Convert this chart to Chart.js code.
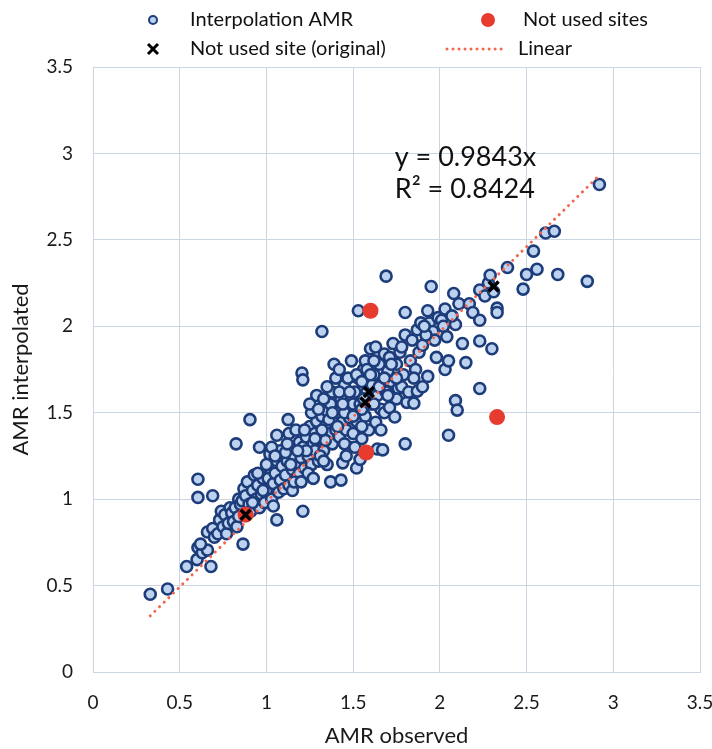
<!DOCTYPE html>
<html>
<head>
<meta charset="utf-8">
<script src="https://cdn.jsdelivr.net/npm/chart.js@4.4.1/dist/chart.umd.min.js"></script>
<style>
  html, body { margin: 0; padding: 0; background: #fff; }
  #wrap { width: 712px; height: 749px; }
</style>
</head>
<body>
<div id="wrap"><canvas id="amr-chart" width="712" height="749"></canvas></div>
<script>
// AMR observed (x) and AMR interpolated (y) for the interpolation points
const amrObserved = [
  0.33, 0.43, 0.54, 0.60, 0.68, 0.605, 0.63, 0.66, 0.62, 0.66, 0.69, 0.70, 0.72, 0.605, 0.605, 0.69, 0.825, 0.865,
  0.73, 0.74, 0.75, 0.76, 0.77, 0.78, 0.79, 0.80, 0.81, 0.82, 0.83, 0.84, 0.84, 0.85, 0.86, 0.87, 0.88, 0.89,
  0.90, 0.905, 0.91, 0.92, 0.93, 0.94, 0.95, 0.96, 0.96, 0.97, 0.98, 0.99,
  1.00, 1.01, 1.02, 1.03, 1.04, 1.05, 1.06, 1.07, 1.08, 1.09, 1.06, 1.06, 1.02, 1.04, 1.08, 1.10, 1.00, 1.03,
  1.11, 1.12, 1.13, 1.14, 1.15, 1.16, 1.17, 1.18, 1.19, 1.125, 1.13, 1.15, 1.17, 1.11, 1.19, 1.20, 1.16, 1.14,
  1.21, 1.205, 1.21, 1.21, 1.22, 1.23, 1.24, 1.25, 1.26, 1.27, 1.28, 1.29, 1.29, 1.22, 1.24, 1.26, 1.28, 1.30, 1.23, 1.27,
  1.31, 1.32, 1.32, 1.33, 1.34, 1.35, 1.36, 1.37, 1.37, 1.38, 1.39, 1.39, 1.31, 1.33, 1.35, 1.36, 1.38, 1.40, 1.34, 1.32,
  1.41, 1.42, 1.43, 1.43, 1.44, 1.44, 1.45, 1.46, 1.47, 1.48, 1.49, 1.49, 1.45, 1.47, 1.48, 1.50, 1.42, 1.46, 1.41, 1.50,
  1.51, 1.52, 1.52, 1.53, 1.53, 1.54, 1.54, 1.55, 1.56, 1.57, 1.58, 1.59, 1.55, 1.57, 1.59, 1.60, 1.51, 1.56, 1.60,
  1.61, 1.62, 1.63, 1.63, 1.64, 1.64, 1.65, 1.66, 1.67, 1.67, 1.68, 1.69, 1.69, 1.70, 1.62, 1.66, 1.68,
  1.71, 1.71, 1.72, 1.73, 1.74, 1.75, 1.76, 1.77, 1.78, 1.79, 1.80, 1.80, 1.80, 1.75, 1.78,
  1.81, 1.82, 1.83, 1.84, 1.85, 1.86, 1.87, 1.87, 1.88, 1.89, 1.90, 1.90, 1.85,
  1.93, 1.93, 1.94, 1.95, 1.96, 1.97, 1.98, 1.92, 1.99, 1.91,
  2.01, 2.02, 2.03, 2.03, 2.04, 2.05, 2.05, 2.08, 2.09, 2.09, 2.10, 2.07,
  2.11, 2.13, 2.15, 2.17, 2.19, 2.23, 2.23, 2.23, 2.23, 2.26, 2.28, 2.29, 2.30, 2.31, 2.33, 2.33,
  2.39, 2.48, 2.50, 2.54, 2.56, 2.61, 2.66, 2.68, 2.85, 2.92,
  1.25, 1.30, 1.35, 1.40, 1.42, 1.45, 1.48, 1.52, 1.55, 1.58, 1.60, 1.62, 1.65, 1.68, 1.70,
  1.72, 1.75, 1.55, 1.50, 1.44, 1.38, 1.28, 1.18, 1.12, 1.05, 0.98, 0.95, 0.92, 1.20, 1.33
];
const amrInterpolated = [
  0.45, 0.48, 0.61, 0.65, 0.61, 0.72, 0.69, 0.705, 0.74, 0.81, 0.83, 0.78, 0.80, 1.115, 1.01, 1.02, 1.32, 0.74,
  0.88, 0.93, 0.84, 0.91, 0.80, 0.86, 0.95, 0.92, 0.87, 0.95, 0.84, 0.90, 1.00, 0.97, 0.99, 1.06, 1.02, 1.10,
  0.97, 1.46, 0.93, 1.05, 1.14, 1.00, 1.08, 0.95, 1.30, 1.03, 1.12, 0.98,
  1.05, 1.12, 1.18, 1.00, 1.09, 1.15, 1.22, 1.04, 1.11, 1.19, 1.37, 0.88, 1.26, 0.96, 1.28, 1.06, 1.20, 1.30,
  1.14, 1.22, 1.08, 1.30, 1.17, 1.25, 1.12, 1.20, 1.33, 1.46, 1.38, 1.05, 1.40, 1.27, 1.15, 1.24, 1.10, 1.20,
  0.93, 1.73, 1.69, 1.30, 1.18, 1.36, 1.25, 1.42, 1.20, 1.32, 1.28, 1.45, 1.60, 1.40, 1.15, 1.50, 1.38, 1.22, 1.28, 1.12,
  1.35, 1.97, 1.48, 1.28, 1.42, 1.51, 1.38, 1.10, 1.55, 1.32, 1.78, 1.45, 1.25, 1.58, 1.20, 1.46, 1.62, 1.40, 1.34, 1.40,
  1.50, 1.36, 1.11, 1.58, 1.21, 1.45, 1.66, 1.40, 1.53, 1.30, 1.80, 1.60, 1.32, 1.70, 1.47, 1.55, 1.62, 1.25, 1.42, 1.38,
  1.62, 1.18, 1.45, 2.09, 1.70, 1.23, 1.55, 1.35, 1.75, 1.48, 1.62, 1.40, 1.52, 1.80, 1.69, 1.87, 1.30, 1.58, 1.55,
  1.66, 1.72, 1.88, 1.445, 1.29, 1.60, 1.78, 1.52, 1.285, 1.68, 1.84, 2.29, 1.62, 1.74, 1.55, 1.40, 1.50,
  1.82, 1.53, 1.68, 1.90, 1.475, 1.78, 1.64, 1.85, 1.65, 1.72, 1.32, 2.08, 1.95, 1.58, 1.88,
  1.56, 1.62, 1.80, 1.92, 1.555, 1.75, 1.625, 1.98, 1.85, 2.02, 1.65, 1.89, 1.70,
  1.71, 2.09, 2.02, 2.23, 1.97, 1.92, 1.82, 1.95, 2.05, 2.00,
  2.035, 2.00, 2.10, 1.75, 1.94, 1.80, 1.37, 2.19, 2.01, 1.57, 1.515, 2.06,
  2.13, 1.90, 1.79, 2.13, 2.08, 2.035, 1.915, 1.64, 2.21, 2.175, 2.25, 2.295, 1.87, 2.20, 2.105, 2.08,
  2.34, 2.215, 2.30, 2.435, 2.33, 2.54, 2.55, 2.30, 2.26, 2.82,
  1.55, 1.52, 1.65, 1.70, 1.75, 1.50, 1.62, 1.72, 1.68, 1.75, 1.72, 1.80, 1.65, 1.70, 1.60,
  1.78, 1.70, 1.42, 1.48, 1.55, 1.50, 1.35, 1.28, 1.32, 1.25, 1.05, 1.15, 0.98, 1.10, 1.22
];

// sites left out of the interpolation
const notUsedX = [1.60, 2.33, 1.575, 0.88];
const notUsedY = [2.09, 1.475, 1.27, 0.91];

// same sites, original values
const originalX = [0.88, 1.59, 1.57, 2.31];
const originalY = [0.91, 1.62, 1.56, 2.23];

// linear trend (through origin)
const trendX = [0.33, 2.92];
const trendY = [0.325, 2.874];
const trendSlope = "0.9843";
const trendR2 = "0.8424";

const toPoints = (xs, ys) => xs.map((x, i) => ({ x: x, y: ys[i] }));

const FONT = "Lato, 'Open Sans', sans-serif";

// legend and the equation label, drawn straight onto the canvas
const extrasPlugin = {
  id: "extras",
  afterDraw(chart) {
    const ctx = chart.ctx;
    const xs = chart.scales.x;
    const ys = chart.scales.y;
    ctx.save();

    ctx.font = "20px " + FONT;
    ctx.fillStyle = "#111";
    ctx.textBaseline = "middle";
    ctx.textAlign = "left";

    // row 1
    ctx.beginPath();
    ctx.arc(153, 20, 4, 0, Math.PI * 2);
    ctx.fillStyle = "#bcd2ee";
    ctx.fill();
    ctx.lineWidth = 2;
    ctx.strokeStyle = "#1d3c7a";
    ctx.stroke();
    ctx.fillStyle = "#111";
    ctx.fillText("Interpolation AMR", 190, 20);

    ctx.beginPath();
    ctx.arc(488, 20, 7, 0, Math.PI * 2);
    ctx.fillStyle = "#e63b2e";
    ctx.fill();
    ctx.fillStyle = "#111";
    ctx.fillText("Not used sites", 523, 20);

    // row 2
    ctx.strokeStyle = "#000";
    ctx.lineWidth = 3;
    ctx.beginPath();
    ctx.moveTo(148, 44); ctx.lineTo(158, 54);
    ctx.moveTo(158, 44); ctx.lineTo(148, 54);
    ctx.stroke();
    ctx.fillText("Not used site (original)", 190, 49);

    ctx.strokeStyle = "#f2654f";
    ctx.lineWidth = 3;
    ctx.lineCap = "round";
    ctx.setLineDash([0.01, 6]);
    ctx.beginPath();
    ctx.moveTo(447, 49); ctx.lineTo(502, 49);
    ctx.stroke();
    ctx.setLineDash([]);
    ctx.fillText("Linear", 518, 49);

    // trend equation
    ctx.font = "27px " + FONT;
    ctx.fillText("y = " + trendSlope + "x", xs.getPixelForValue(1.74), ys.getPixelForValue(2.98));
    ctx.fillText("R² = " + trendR2, xs.getPixelForValue(1.74), ys.getPixelForValue(2.79));

    ctx.restore();
  }
};

const gridColor = "#ccd6e2";
const tickLabel = (v) => String(v);

new Chart(document.getElementById("amr-chart"), {
  type: "scatter",
  data: {
    datasets: [
      {
        label: "Not used site (original)",
        data: toPoints(originalX, originalY),
        pointStyle: "crossRot",
        pointRadius: 7,
        borderColor: "#000",
        borderWidth: 3.5,
        order: 0
      },
      {
        label: "Not used sites",
        data: toPoints(notUsedX, notUsedY),
        pointRadius: 8,
        backgroundColor: "#e63b2e",
        borderColor: "#e63b2e",
        borderWidth: 0,
        order: 1
      },
      {
        label: "Linear",
        type: "line",
        data: toPoints(trendX, trendY),
        pointRadius: 0,
        borderColor: "#f2654f",
        borderWidth: 3,
        borderDash: [0.01, 6.5],
        borderCapStyle: "round",
        fill: false,
        order: 2
      },
      {
        label: "Interpolation AMR",
        data: toPoints(amrObserved, amrInterpolated),
        pointRadius: 5.5,
        backgroundColor: "#bcd2ee",
        borderColor: "#1d3c7a",
        borderWidth: 2.6,
        order: 3
      }
    ]
  },
  options: {
    responsive: false,
    animation: false,
    layout: { padding: { top: 67, right: 0, left: 0, bottom: 0 } },
    plugins: {
      legend: { display: false },
      tooltip: { enabled: false }
    },
    scales: {
      x: {
        type: "linear",
        min: 0,
        max: 3.5,
        ticks: { stepSize: 0.5, padding: 19, color: "#1a1a1a", font: { family: FONT, size: 19 }, callback: tickLabel },
        grid: { color: gridColor, drawTicks: false },
        border: { color: gridColor },
        title: { display: true, text: "AMR observed", color: "#1a1a1a", font: { family: FONT, size: 22 }, padding: { top: 0, bottom: 0 } },
        afterFit(scale) {
          scale.height = 77;
          scale.paddingLeft = 0;
          scale.paddingRight = 12;
        }
      },
      y: {
        type: "linear",
        min: 0,
        max: 3.5,
        ticks: { stepSize: 0.5, padding: 20, color: "#1a1a1a", font: { family: FONT, size: 19 }, callback: tickLabel },
        grid: { color: gridColor, drawTicks: false },
        border: { color: gridColor },
        title: { display: true, text: "AMR interpolated", color: "#1a1a1a", font: { family: FONT, size: 22 }, padding: { top: 8, bottom: 0 } },
        afterFit(scale) {
          scale.width = 93;
          scale.paddingTop = 0;
          scale.paddingBottom = 0;
        }
      }
    }
  },
  plugins: [extrasPlugin]
});
</script>
</body>
</html>
